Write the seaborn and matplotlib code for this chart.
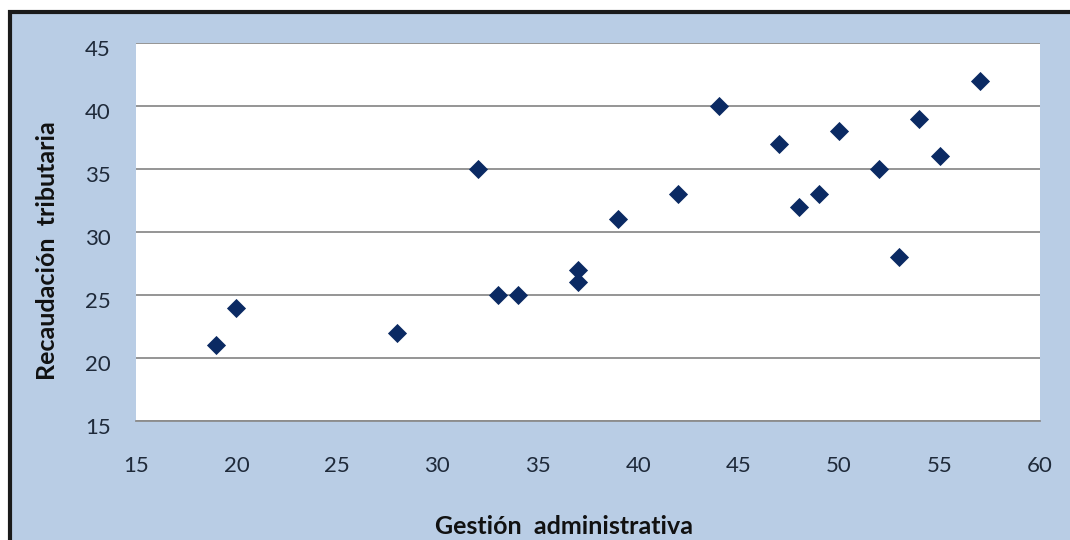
import matplotlib
matplotlib.use("Agg")
import matplotlib.pyplot as plt
import seaborn as sns
import pandas as pd
from matplotlib.patches import Rectangle
from matplotlib.transforms import ScaledTranslation

gestion = [19, 20, 28, 32, 33, 34, 37, 37, 39, 42, 44, 47, 48, 49, 50, 52, 53, 54, 55, 57]
recaudacion = [21, 24, 22, 35, 25, 25, 27, 26, 31, 33, 40, 37, 32, 33, 38, 35, 28, 39, 36, 42]
x_ticks = [15, 20, 25, 30, 35, 40, 45, 50, 55, 60]
y_ticks = [15, 20, 25, 30, 35, 40, 45]

df = pd.DataFrame({"Gestión administrativa": gestion, "Recaudación tributaria": recaudacion})

sns.set_theme(style="white")
plt.rcParams['font.family'] = ['Lato', 'DejaVu Sans']

bg = "#B9CDE5"
fig = plt.figure(figsize=(10.7, 5.4), dpi=100)
fig.patch.set_facecolor("white")
fig.patches.append(Rectangle((10/1070, -0.2), 1.2, (540-12)/540 + 0.2,
                             transform=fig.transFigure, facecolor=bg,
                             edgecolor="#1a1a1a", linewidth=3, zorder=-10))

ax = fig.add_axes([136/1070, 1 - 421/540, (1040-136)/1070, (421-43)/540])
ax.set_facecolor("white")
sns.scatterplot(data=df, x="Gestión administrativa", y="Recaudación tributaria",
                marker="D", s=95, color="#0B2A63", edgecolor="#0B2A63", linewidth=0,
                ax=ax, zorder=3)

ax.set_xlim(15, 60)
ax.set_ylim(15, 45)
ax.set_xticks(x_ticks)
ax.set_yticks(y_ticks)
ax.yaxis.grid(True, color="#8C8C8C", linewidth=1.3)
ax.xaxis.grid(False)
for side in ["left", "right", "top"]:
    ax.spines[side].set_visible(False)
ax.spines["bottom"].set_color("#8C8C8C")
ax.spines["bottom"].set_linewidth(1.3)

ax.tick_params(axis="both", labelsize=16, labelcolor="#1F2A3A", length=0)
ax.tick_params(axis="x", pad=25)
ax.tick_params(axis="y", pad=18)
shift = ScaledTranslation(0, -5/100, fig.dpi_scale_trans)
for lab in ax.get_yticklabels():
    lab.set_transform(lab.get_transform() + shift)

ax.set_xlabel("Gestión  administrativa", fontsize=18, fontweight="bold", color="#111111")
ax.set_ylabel("Recaudación  tributaria", fontsize=18, fontweight="bold", color="#111111")
ax.xaxis.set_label_coords((564 - 136) / 904, (421 - 527) / 378)
ax.yaxis.set_label_coords((48 - 136) / 904, (421 - 251) / 378)
ax.xaxis.label.set_va("center")
ax.yaxis.label.set_va("center")

fig.savefig("out.png", dpi=100, facecolor=fig.get_facecolor())
